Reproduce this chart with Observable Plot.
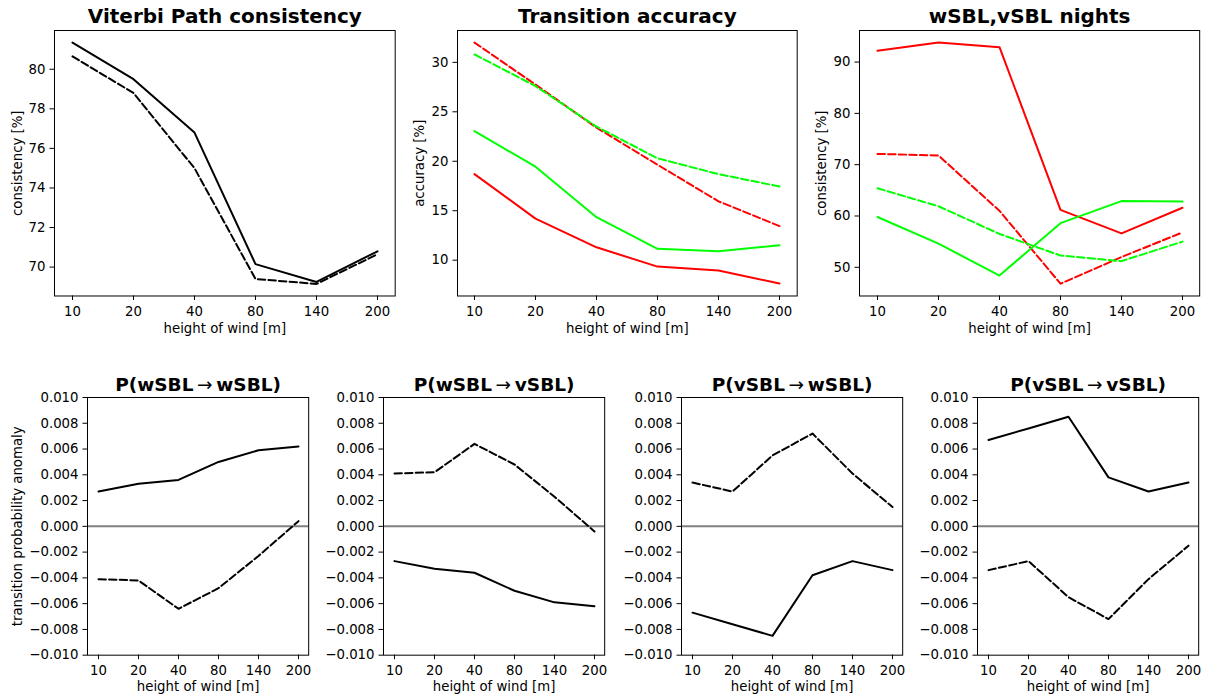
<!DOCTYPE html>
<html>
<head>
<meta charset="utf-8">
<script src="https://cdn.jsdelivr.net/npm/d3@7"></script>
<script src="https://cdn.jsdelivr.net/npm/@observablehq/plot@0.6"></script>
<style>
  html, body { margin: 0; padding: 0; background: #fff; }
  #fig { position: relative; width: 1207px; height: 699px; overflow: hidden; font-family: "DejaVu Sans"; }
  #fig svg { position: absolute; }
</style>
</head>
<body>
<div id="fig"></div>
<script>
// Wind heights used as categorical x positions
const heights = ["10", "20", "40", "80", "140", "200"];

// Viterbi path consistency [%]
const viterbiSolid  = [81.35, 79.5, 76.8, 70.15, 69.25, 70.8];
const viterbiDashed = [80.65, 78.8, 75.0, 69.4, 69.15, 70.65];

// Transition accuracy [%]
const accRedSolid    = [18.7, 14.2, 11.3, 9.35, 8.95, 7.65];
const accGreenSolid  = [23.05, 19.45, 14.35, 11.15, 10.9, 11.5];
const accRedDashed   = [32.0, 27.75, 23.4, 19.65, 15.95, 13.45];
const accGreenDashed = [30.8, 27.6, 23.5, 20.3, 18.7, 17.45];

// Consistency on wSBL / vSBL nights [%]
const nightsRedSolid    = [92.2, 93.8, 92.9, 61.2, 56.6, 61.6];
const nightsRedDashed   = [72.1, 71.8, 61.0, 46.8, 52.0, 56.8];
const nightsGreenSolid  = [59.8, 54.6, 48.4, 58.6, 62.9, 62.8];
const nightsGreenDashed = [65.4, 61.9, 56.5, 52.3, 51.2, 55.0];

// Transition probability anomalies
const wwSolid  = [0.0027, 0.0033, 0.0036, 0.0050, 0.0059, 0.0062];
const wwDashed = [-0.0041, -0.0042, -0.0064, -0.0048, -0.0023, 0.0004];
const wvSolid  = [-0.0027, -0.0033, -0.0036, -0.0050, -0.0059, -0.0062];
const wvDashed = [0.0041, 0.0042, 0.0064, 0.0048, 0.0023, -0.0004];
const vwSolid  = [-0.0067, -0.0076, -0.0085, -0.0038, -0.0027, -0.0034];
const vwDashed = [0.0034, 0.0027, 0.0055, 0.0072, 0.0041, 0.0015];
const vvSolid  = [0.0067, 0.0076, 0.0085, 0.0038, 0.0027, 0.0034];
const vvDashed = [-0.0034, -0.0027, -0.0055, -0.0072, -0.0041, -0.0015];

// Tick values
const viterbiTicks = [70, 72, 74, 76, 78, 80];
const accTicks = [10, 15, 20, 25, 30];
const nightsTicks = [50, 60, 70, 80, 90];
const anomalyTicks = [-0.010, -0.008, -0.006, -0.004, -0.002, 0, 0.002, 0.004, 0.006, 0.008, 0.010];

const RED = "#ff0000", GREEN = "#00ff00", BLACK = "#000000";
const ARROW = "\u2192";
const fig = document.getElementById("fig");
const minus = s => s.replace("-", "\u2212");

// Render the transition arrow in regular weight inside a bold title
function lightenArrows(svg) {
  const ns = "http://www.w3.org/2000/svg";
  svg.querySelectorAll("text").forEach(t => {
    if (t.childElementCount || !t.textContent.includes(ARROW)) return;
    const [before, after] = t.textContent.split(ARROW);
    t.textContent = "";
    for (const [str, weight] of [[before, null], [ARROW, "normal"], [after, null]]) {
      const span = document.createElementNS(ns, "tspan");
      span.textContent = str;
      if (weight) span.setAttribute("font-weight", weight);
      t.appendChild(span);
    }
  });
}

function panel({frame, yDomain, yTicks, yFormat, title, titleSize, titleDy, xLabelDy, yLabel, yLabelDx, series, zeroLine}) {
  const [x0, x1, y0, y1] = frame;
  const mL = 90, mR = 12, mT = 40, mB = 46;
  const width = (x1 - x0) + mL + mR;
  const height = (y1 - y0) + mT + mB;
  const marks = [];
  if (zeroLine) marks.push(Plot.ruleY([0], {stroke: "#808080", strokeWidth: 2}));
  for (const s of series) {
    marks.push(Plot.line(heights.map((h, i) => ({h, v: s.values[i]})), {
      x: "h", y: "v", stroke: s.color, strokeWidth: 2,
      strokeDasharray: s.dashed ? "7.4,3.2" : null
    }));
  }
  marks.push(
    Plot.frame({stroke: "#000", strokeWidth: 1}),
    Plot.axisX({tickSize: 4.5, tickPadding: 6, label: null}),
    Plot.axisY({ticks: yTicks, tickFormat: yFormat, tickSize: 4.5, tickPadding: 4.5, label: null}),
    Plot.text([title], {text: d => d, frameAnchor: "top", lineAnchor: "middle", textAnchor: "middle",
      dy: titleDy, fontWeight: "bold", fontSize: titleSize}),
    Plot.text(["height of wind [m]"], {text: d => d, frameAnchor: "bottom", lineAnchor: "middle",
      textAnchor: "middle", dy: xLabelDy})
  );
  if (yLabel) {
    marks.push(Plot.text([yLabel], {text: d => d, frameAnchor: "left", lineAnchor: "middle",
      textAnchor: "middle", dx: yLabelDx, rotate: -90}));
  }
  const svg = Plot.plot({
    width, height,
    marginLeft: mL, marginRight: mR, marginTop: mT, marginBottom: mB,
    x: {type: "point", domain: heights, padding: 0.25},
    y: {domain: yDomain},
    style: {fontFamily: "DejaVu Sans", fontSize: "13.3px", color: "#000", background: "transparent", overflow: "visible"},
    marks
  });
  lightenArrows(svg);
  svg.style.left = (x0 - mL) + "px";
  svg.style.top = (y0 - mT) + "px";
  fig.append(svg);
}

const fmtInt = d => String(d);
const fmtAnom = d => minus(d.toFixed(3));
const topRow = {titleSize: 20, titleDy: -14, xLabelDy: 33};

panel({
  ...topRow,
  frame: [54, 394.7, 29.5, 295],
  yDomain: [68.54, 81.96], yTicks: viterbiTicks, yFormat: fmtInt,
  title: "Viterbi Path consistency", yLabel: "consistency [%]", yLabelDx: -37,
  series: [
    {values: viterbiSolid, color: BLACK, dashed: false},
    {values: viterbiDashed, color: BLACK, dashed: true}
  ]
});

panel({
  ...topRow,
  frame: [456.8, 796.5, 29.5, 295],
  yDomain: [6.38, 33.22], yTicks: accTicks, yFormat: fmtInt,
  title: "Transition accuracy", yLabel: "accuracy [%]", yLabelDx: -38,
  series: [
    {values: accRedSolid, color: RED, dashed: false},
    {values: accGreenSolid, color: GREEN, dashed: false},
    {values: accRedDashed, color: RED, dashed: true},
    {values: accGreenDashed, color: GREEN, dashed: true}
  ]
});

panel({
  ...topRow,
  frame: [858.6, 1198.8, 29.5, 295],
  yDomain: [44.41, 96.15], yTicks: nightsTicks, yFormat: fmtInt,
  title: "wSBL,vSBL nights", yLabel: "consistency [%]", yLabelDx: -37.5,
  series: [
    {values: nightsRedSolid, color: RED, dashed: false},
    {values: nightsRedDashed, color: RED, dashed: true},
    {values: nightsGreenSolid, color: GREEN, dashed: false},
    {values: nightsGreenDashed, color: GREEN, dashed: true}
  ]
});

const anomalyPanels = [
  {x0: 86.7, title: `P(wSBL\u2009${ARROW}\u2009wSBL)`, solid: wwSolid, dashed: wwDashed, yLabel: "transition probability anomaly"},
  {x0: 382.7, title: `P(wSBL\u2009${ARROW}\u2009vSBL)`, solid: wvSolid, dashed: wvDashed},
  {x0: 680.7, title: `P(vSBL\u2009${ARROW}\u2009wSBL)`, solid: vwSolid, dashed: vwDashed},
  {x0: 977.4, title: `P(vSBL\u2009${ARROW}\u2009vSBL)`, solid: vvSolid, dashed: vvDashed}
];

for (const p of anomalyPanels) {
  panel({
    titleSize: 18.5, titleDy: -12, xLabelDy: 31.5,
    frame: [p.x0, p.x0 + 221.2, 397.3, 655],
    yDomain: [-0.01, 0.01], yTicks: anomalyTicks, yFormat: fmtAnom,
    title: p.title, yLabel: p.yLabel || null, yLabelDx: -70,
    zeroLine: true,
    series: [
      {values: p.solid, color: BLACK, dashed: false},
      {values: p.dashed, color: BLACK, dashed: true}
    ]
  });
}
</script>
</body>
</html>
